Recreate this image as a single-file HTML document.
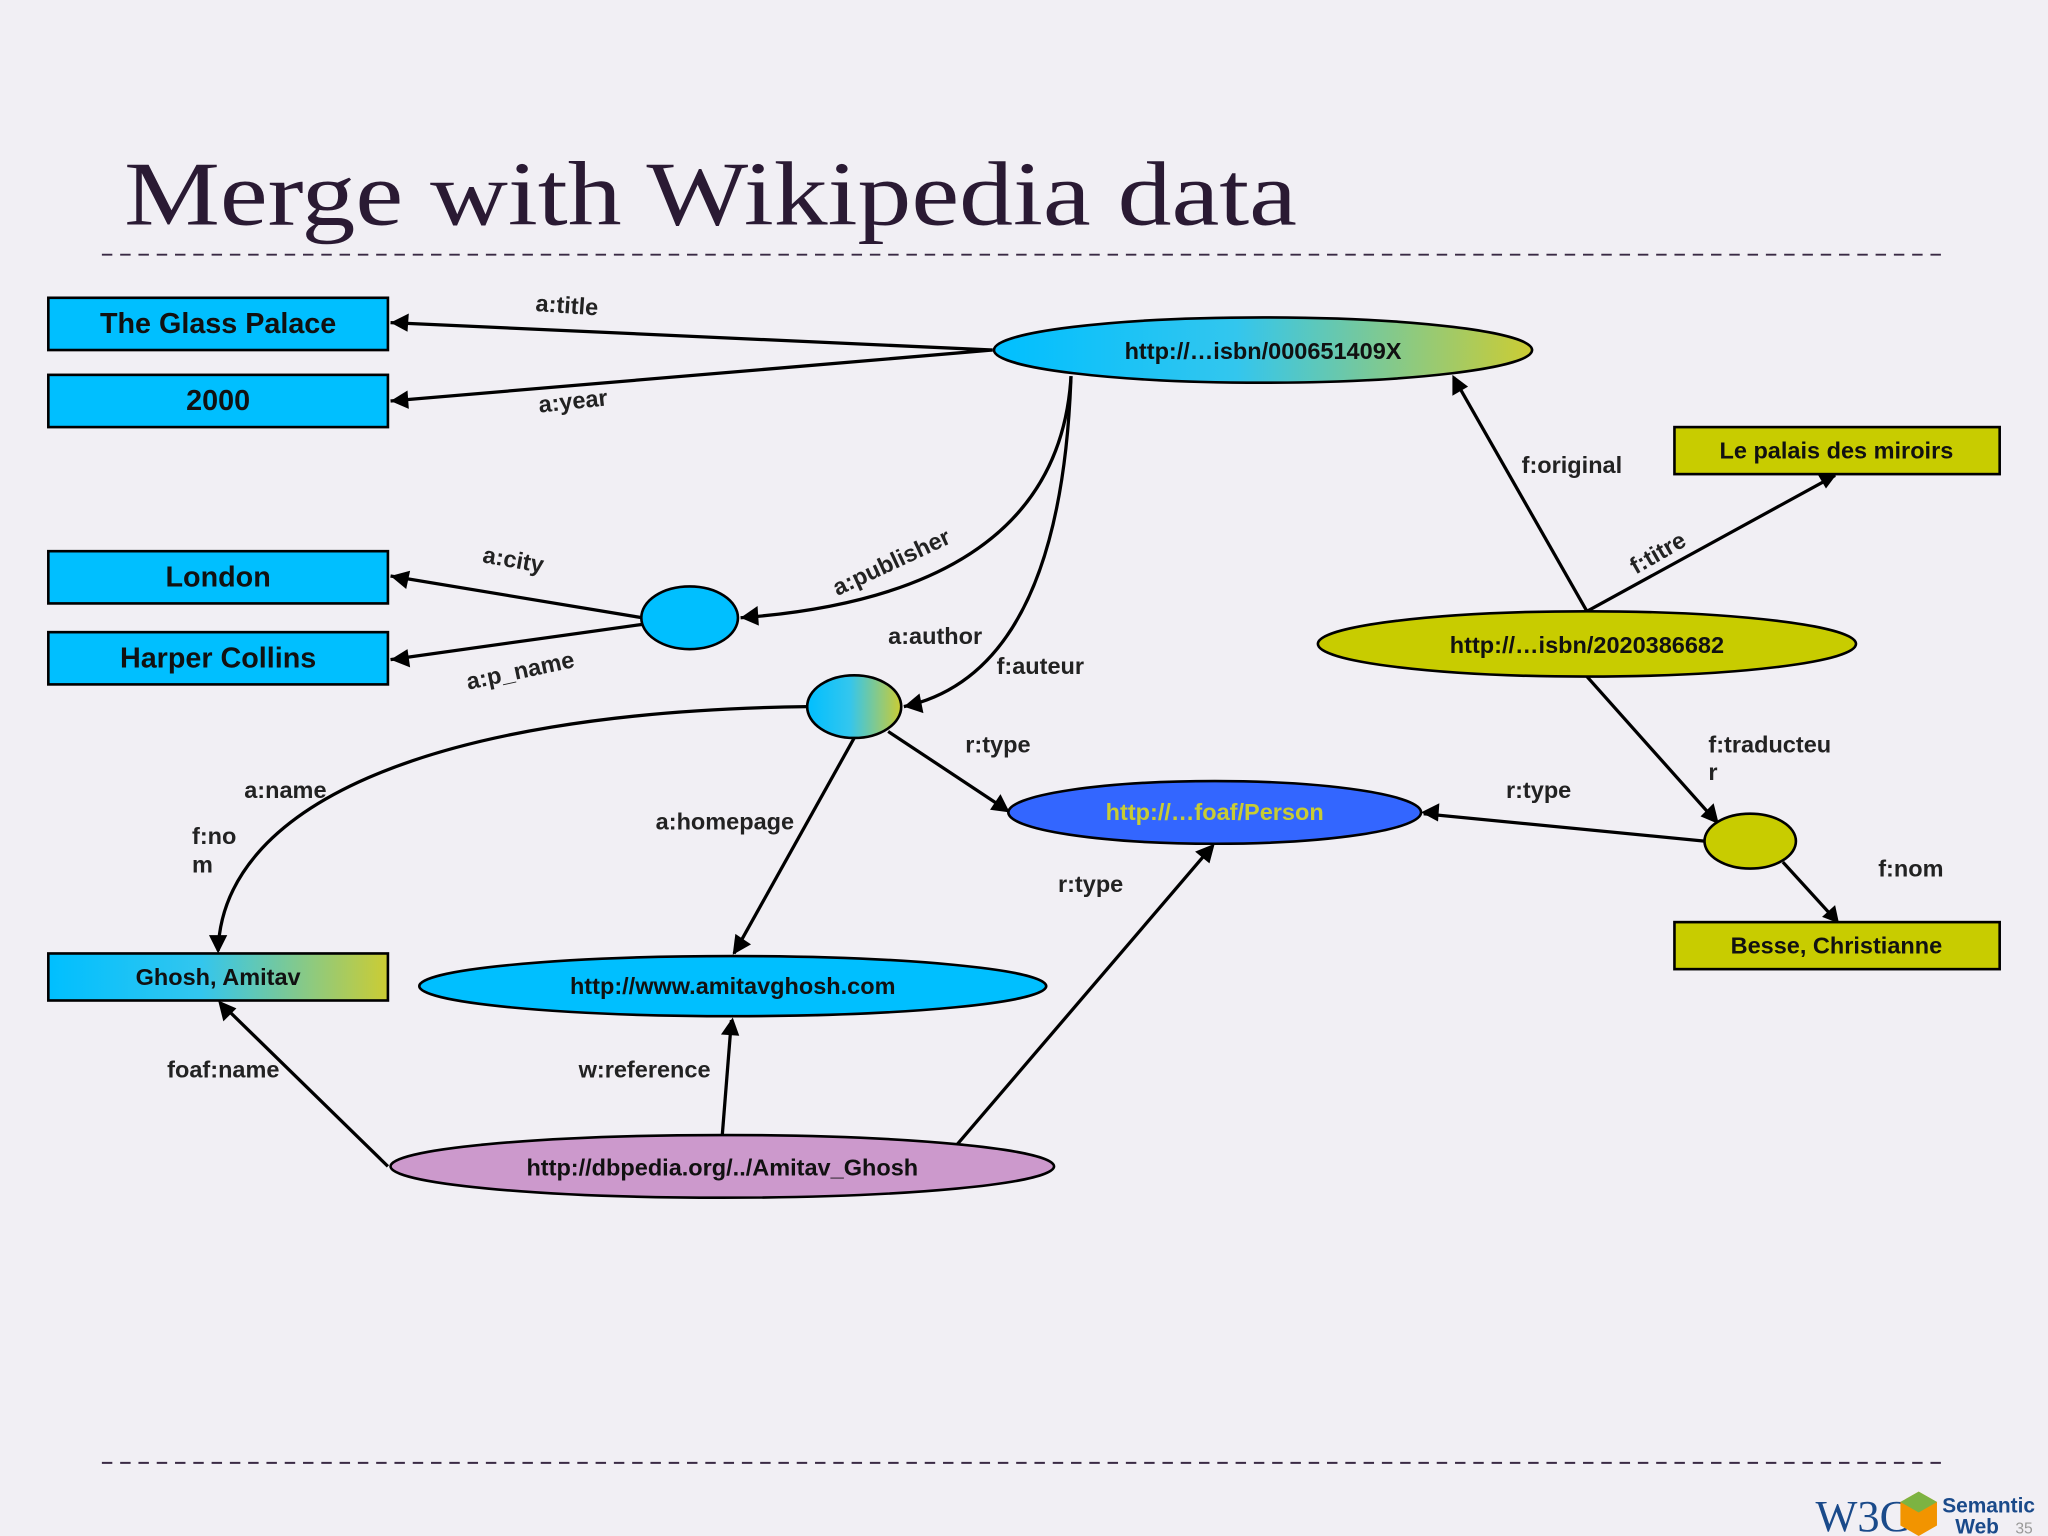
<!DOCTYPE html>
<html><head><meta charset="utf-8"><style>
html,body{margin:0;padding:0;background:#f1eff4;}
svg{display:block}
</style></head><body>
<svg width="2048" height="1536" viewBox="0 0 1568 1176" xmlns="http://www.w3.org/2000/svg" font-family="Liberation Sans, sans-serif" font-weight="bold">
<defs>
<linearGradient id="g1" x1="0" x2="1" y1="0" y2="0"><stop offset="0" stop-color="#00bfff"/><stop offset="0.45" stop-color="#33c6ee"/><stop offset="1" stop-color="#cccc33"/></linearGradient>
</defs>
<rect width="1568" height="1176" fill="#f1eff4"/>
<text x="95" y="172" font-family="Liberation Serif, serif" font-weight="normal" font-size="70" fill="#2a1a33" textLength="898" lengthAdjust="spacingAndGlyphs">Merge with Wikipedia data</text>
<line x1="78" y1="195" x2="1490" y2="195" stroke="#3a2a44" stroke-width="1.5" stroke-dasharray="8,6"/>
<line x1="78" y1="1120" x2="1490" y2="1120" stroke="#3a2a44" stroke-width="1.5" stroke-dasharray="8,6"/>

<g stroke="#000" stroke-width="2.5" fill="none">
<line x1="760" y1="268" x2="299" y2="247"/>
<line x1="760" y1="268" x2="299" y2="307"/>
<path d="M820,288 Q810,455 567,473"/>
<path d="M820,288 Q812,515 692,541"/>
<line x1="492" y1="473" x2="299" y2="441"/>
<line x1="492" y1="478" x2="299" y2="505"/>
<path d="M618,541 C320,545 170,620 167,728"/>
<line x1="654" y1="565" x2="562" y2="730"/>
<line x1="680" y1="560" x2="772" y2="621"/>
<line x1="733" y1="876" x2="928" y2="648"/>
<line x1="297" y1="893" x2="169" y2="768"/>
<line x1="553" y1="869" x2="560" y2="781"/>
<line x1="1215" y1="468" x2="1113" y2="289"/>
<line x1="1215" y1="468" x2="1405" y2="364"/>
<line x1="1215" y1="518" x2="1314" y2="629"/>
<line x1="1305" y1="644" x2="1090" y2="623"/>
<line x1="1365" y1="660" x2="1406" y2="705"/>
</g>
<g fill="#000">
<path d="M299,247 l14,-7 l-1,14 z"/>
<path d="M299,307 l13,-8 l1,14 z"/>
<path d="M567,473 l13,-9 l1,15 z"/>
<path d="M692,541 l12,-10 l3,15 z"/>
<path d="M299,441 l15,-4 l-3,14 z"/>
<path d="M299,505 l13,-8 l2,14 z"/>
<path d="M167,730 l-7,-14 l14,0 z"/>
<path d="M561,731 l2,-16 l12,8 z"/>
<path d="M773,622 l-15,-2 l8,-12 z"/>
<path d="M930,646 l-4,15 l-11,-9 z"/>
<path d="M167,766 l14,6 l-10,10 z"/>
<path d="M561,779 l5,14 l-14,-1 z"/>
<path d="M1112,287 l12,9 l-12,7 z"/>
<path d="M1407,362 l-9,12 l-7,-12 z"/>
<path d="M1316,631 l-14,-6 l10,-10 z"/>
<path d="M1088,622 l14,-7 l-1,14 z"/>
<path d="M1408,707 l-13,-5 l10,-9 z"/>
</g>

<g stroke="#000" stroke-width="2">
<rect x="37" y="228" width="260" height="40" fill="#00bfff"/>
<rect x="37" y="287" width="260" height="40" fill="#00bfff"/>
<rect x="37" y="422" width="260" height="40" fill="#00bfff"/>
<rect x="37" y="484" width="260" height="40" fill="#00bfff"/>
<rect x="37" y="730" width="260" height="36" fill="url(#g1)"/>
<rect x="1282" y="327" width="249" height="36" fill="#c8cc00"/>
<rect x="1282" y="706" width="249" height="36" fill="#c8cc00"/>
<ellipse cx="967" cy="268" rx="206" ry="25" fill="url(#g1)"/>
<ellipse cx="528" cy="473" rx="37" ry="24" fill="#00bfff"/>
<ellipse cx="654" cy="541" rx="36" ry="24" fill="url(#g1)"/>
<ellipse cx="930" cy="622" rx="158" ry="24" fill="#3366ff"/>
<ellipse cx="561" cy="755" rx="240" ry="23" fill="#00bfff"/>
<ellipse cx="553" cy="893" rx="254" ry="24" fill="#cc99cc"/>
<ellipse cx="1215" cy="493" rx="206" ry="25" fill="#c8cc00"/>
<ellipse cx="1340" cy="644" rx="35" ry="21" fill="#c8cc00"/>
</g>

<g text-anchor="middle" fill="#111">
<text x="167" y="255" font-size="22">The Glass Palace</text>
<text x="167" y="314" font-size="22">2000</text>
<text x="167" y="449" font-size="22">London</text>
<text x="167" y="511" font-size="22">Harper Collins</text>
<text x="167" y="754" font-size="18">Ghosh, Amitav</text>
<text x="1406" y="351" font-size="18">Le palais des miroirs</text>
<text x="1406" y="730" font-size="18">Besse, Christianne</text>
<text x="967" y="275" font-size="18">http://…isbn/000651409X</text>
<text x="930" y="628" font-size="18" fill="#c8cc33">http://…foaf/Person</text>
<text x="561" y="761" font-size="18">http://www.amitavghosh.com</text>
<text x="553" y="900" font-size="18">http://dbpedia.org/../Amitav_Ghosh</text>
<text x="1215" y="500" font-size="18">http://…isbn/2020386682</text>
</g>

<g fill="#222" font-size="18">
<text x="410" y="240" transform="rotate(4 437 235)">a:title</text>
<text x="412" y="313" transform="rotate(-6 440 305)">a:year</text>
<text x="626" y="438" transform="rotate(-25 675 413)">a:publisher</text>
<text x="680" y="493">a:author</text>
<text x="763" y="516">f:auteur</text>
<text x="369" y="435" transform="rotate(10 395 432)">a:city</text>
<text x="355" y="519" transform="rotate(-12 400 507)">a:p_name</text>
<text x="187" y="611">a:name</text>
<text x="147" y="646">f:no</text>
<text x="147" y="668">m</text>
<text x="502" y="635">a:homepage</text>
<text x="739" y="576">r:type</text>
<text x="810" y="683">r:type</text>
<text x="128" y="825">foaf:name</text>
<text x="443" y="825">w:reference</text>
<text x="1165" y="362">f:original</text>
<text x="1240" y="430" transform="rotate(-30 1265 412)">f:titre</text>
<text x="1308" y="576">f:traducteu</text>
<text x="1308" y="597">r</text>
<text x="1153" y="611">r:type</text>
<text x="1438" y="671">f:nom</text>
</g>

<g font-weight="bold">
<text x="1390" y="1172" font-family="Liberation Serif, serif" font-size="34" fill="#1a4a8a" font-weight="normal">W3C</text>
<path d="M1455,1150 l14,-8 l14,8 v18 l-14,8 l-14,-8 z" fill="#f29400"/>
<path d="M1455,1150 l14,-8 l14,8 l-14,8 z" fill="#7cb342"/>
<text x="1487" y="1158" font-size="16" fill="#1a4a8a">Semantic</text>
<text x="1497" y="1174" font-size="16" fill="#1a4a8a">Web</text>
<text x="1543" y="1174" font-size="12" fill="#999" font-weight="normal">35</text>
</g>
</svg>
</body></html>
